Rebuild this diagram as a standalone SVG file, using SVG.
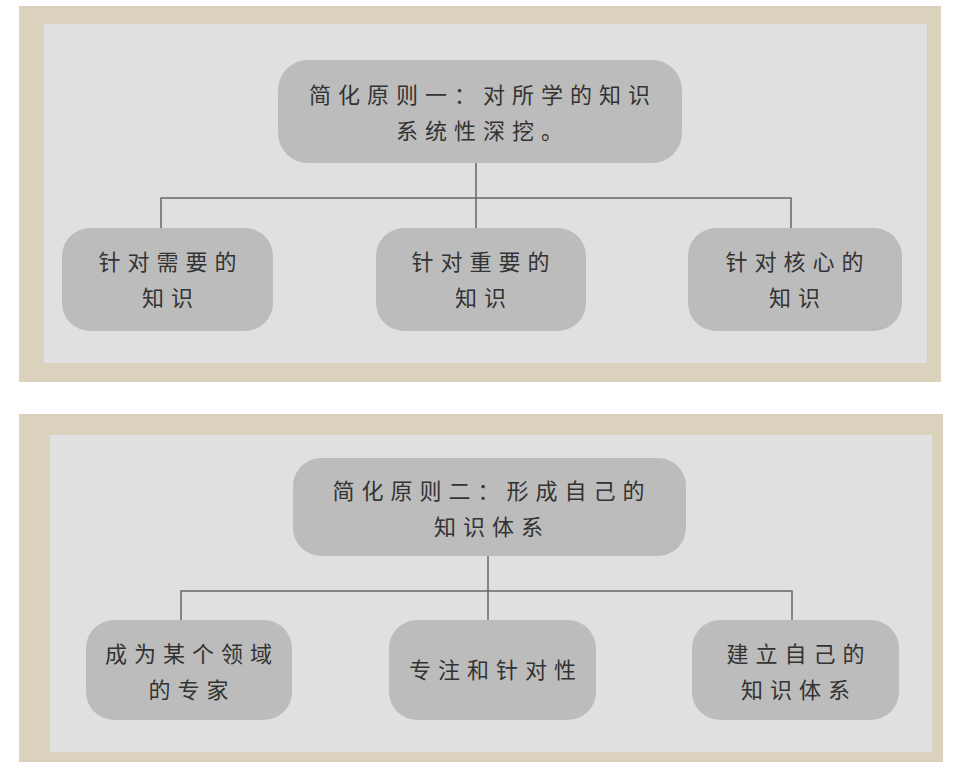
<svg xmlns="http://www.w3.org/2000/svg" width="956" height="769" viewBox="0 0 956 769">
<style>
.outer{fill:#dbd2bd}.inner{fill:#e0e0e0}
.node rect{fill:#bcbcbc}
text{font-family:"Noto Sans CJK SC",sans-serif;font-size:22px;fill:#333;text-anchor:middle;letter-spacing:7px}
.conn path{fill:none;stroke:#666;stroke-width:1.5}
</style>
<rect width="956" height="769" fill="#fff"/>
<rect class="outer" x="19" y="6" width="922" height="376"/>
<rect class="inner" x="44" y="24" width="883" height="339"/>
<rect class="outer" x="19" y="414" width="924" height="348"/>
<rect class="inner" x="50" y="435" width="882" height="317"/>
<g class="conn">
<path d="M476 163V228M161 228V198H791V228"/>
<path d="M488 556V620M181 620V591H792V620"/>
</g>
<g id="n1" class="node"><rect x="278" y="60" width="404" height="103" rx="30"/><text x="483" y="103">简化原则一：对所学的知识</text><text x="483" y="139">系统性深挖。</text></g>
<g id="n2" class="node"><rect x="62" y="228" width="211" height="103" rx="28"/><text x="171" y="270">针对需要的</text><text x="171" y="306">知识</text></g>
<g id="n3" class="node"><rect x="376" y="228" width="210" height="103" rx="28"/><text x="484" y="270">针对重要的</text><text x="484" y="306">知识</text></g>
<g id="n4" class="node"><rect x="688" y="228" width="214" height="103" rx="28"/><text x="798" y="270">针对核心的</text><text x="798" y="306">知识</text></g>
<g id="m1" class="node"><rect x="293" y="458" width="393" height="98" rx="28"/><text x="492" y="499">简化原则二：形成自己的</text><text x="492" y="535">知识体系</text></g>
<g id="m2" class="node"><rect x="86" y="620" width="206" height="100" rx="28"/><text x="192" y="662">成为某个领域</text><text x="192" y="698">的专家</text></g>
<g id="m3" class="node"><rect x="389" y="620" width="207" height="100" rx="28"/><text x="496" y="678">专注和针对性</text></g>
<g id="m4" class="node"><rect x="692" y="620" width="207" height="100" rx="28"/><text x="799" y="662">建立自己的</text><text x="799" y="698">知识体系</text></g>
</svg>
